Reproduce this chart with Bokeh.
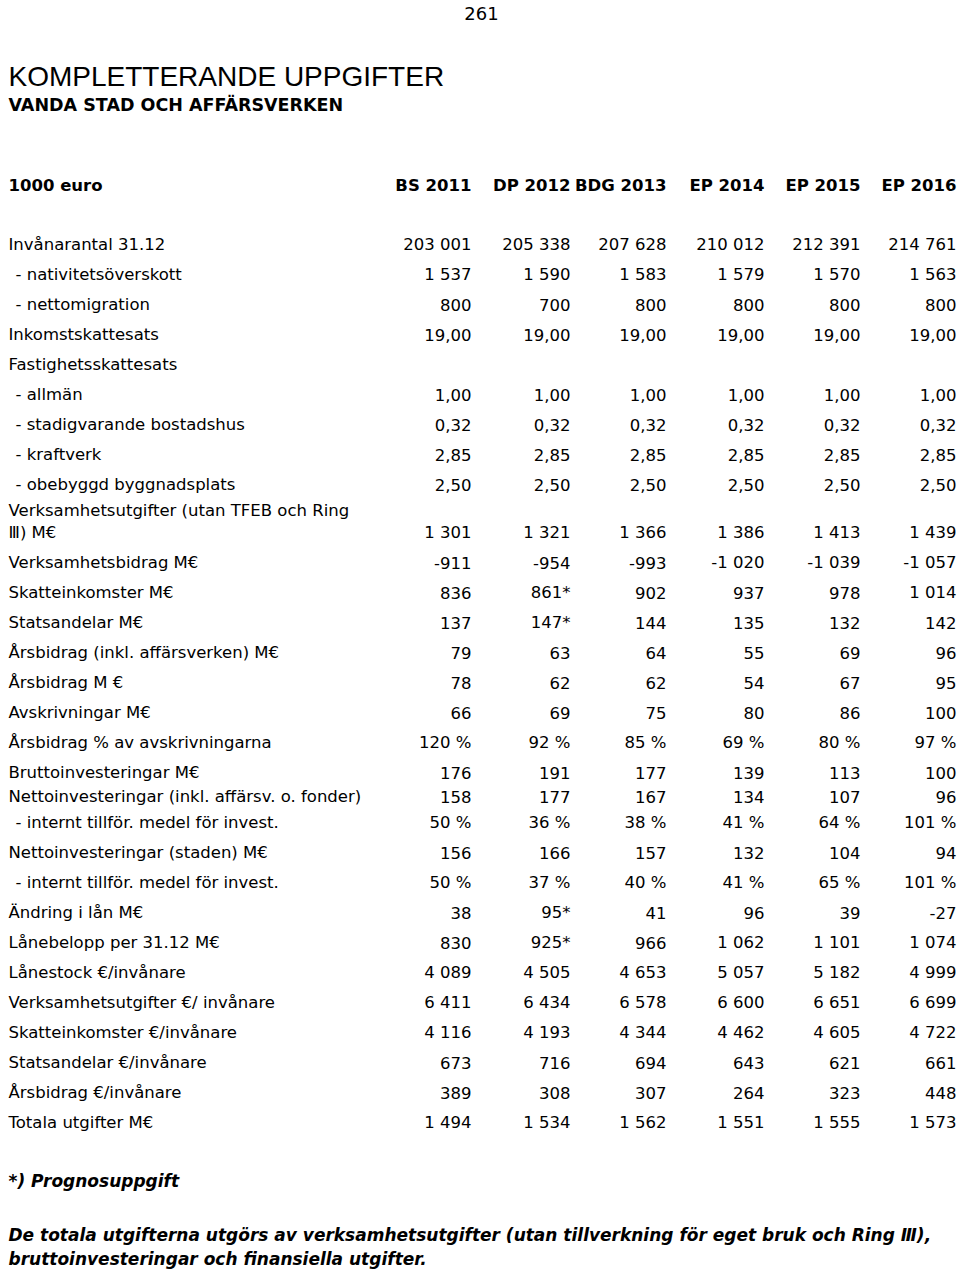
from bokeh.plotting import figure
from bokeh.models import Range1d, ColumnDataSource
from bokeh.core.properties import value
from bokeh.embed import file_html
from bokeh.resources import INLINE

# ---------------- data ----------------
page_number = "261"
title = "KOMPLETTERANDE UPPGIFTER"
subtitle = "VANDA STAD OCH AFFÄRSVERKEN"
unit_label = "1000 euro"
years = ["BS 2011", "DP 2012", "BDG 2013", "EP 2014", "EP 2015", "EP 2016"]

labels = [
    "Invånarantal 31.12",
    "- nativitetsöverskott",
    "- nettomigration",
    "Inkomstskattesats",
    "Fastighetsskattesats",
    "- allmän",
    "- stadigvarande bostadshus",
    "- kraftverk",
    "- obebyggd byggnadsplats",
    "Verksamhetsutgifter (utan TFEB och Ring\nⅢ) M€",
    "Verksamhetsbidrag M€",
    "Skatteinkomster M€",
    "Statsandelar M€",
    "Årsbidrag (inkl. affärsverken) M€",
    "Årsbidrag M €",
    "Avskrivningar M€",
    "Årsbidrag % av avskrivningarna",
    "Bruttoinvesteringar M€",
    "Nettoinvesteringar (inkl. affärsv. o. fonder)",
    "- internt tillför. medel för invest.",
    "Nettoinvesteringar (staden) M€",
    "- internt tillför. medel för invest.",
    "Ändring i lån M€",
    "Lånebelopp per 31.12 M€",
    "Lånestock €/invånare",
    "Verksamhetsutgifter €/ invånare",
    "Skatteinkomster €/invånare",
    "Statsandelar €/invånare",
    "Årsbidrag €/invånare",
    "Totala utgifter M€",
]

bs2011 = ["203 001", "1 537", "800", "19,00", "", "1,00", "0,32", "2,85", "2,50",
          "1 301", "-911", "836", "137", "79", "78", "66", "120 %", "176", "158", "50 %",
          "156", "50 %", "38", "830", "4 089", "6 411", "4 116", "673", "389", "1 494"]
dp2012 = ["205 338", "1 590", "700", "19,00", "", "1,00", "0,32", "2,85", "2,50",
          "1 321", "-954", "861*", "147*", "63", "62", "69", "92 %", "191", "177", "36 %",
          "166", "37 %", "95*", "925*", "4 505", "6 434", "4 193", "716", "308", "1 534"]
bdg2013 = ["207 628", "1 583", "800", "19,00", "", "1,00", "0,32", "2,85", "2,50",
           "1 366", "-993", "902", "144", "64", "62", "75", "85 %", "177", "167", "38 %",
           "157", "40 %", "41", "966", "4 653", "6 578", "4 344", "694", "307", "1 562"]
ep2014 = ["210 012", "1 579", "800", "19,00", "", "1,00", "0,32", "2,85", "2,50",
          "1 386", "-1 020", "937", "135", "55", "54", "80", "69 %", "139", "134", "41 %",
          "132", "41 %", "96", "1 062", "5 057", "6 600", "4 462", "643", "264", "1 551"]
ep2015 = ["212 391", "1 570", "800", "19,00", "", "1,00", "0,32", "2,85", "2,50",
          "1 413", "-1 039", "978", "132", "69", "67", "86", "80 %", "113", "107", "64 %",
          "104", "65 %", "39", "1 101", "5 182", "6 651", "4 605", "621", "323", "1 555"]
ep2016 = ["214 761", "1 563", "800", "19,00", "", "1,00", "0,32", "2,85", "2,50",
          "1 439", "-1 057", "1 014", "142", "96", "95", "100", "97 %", "100", "96", "101 %",
          "94", "101 %", "-27", "1 074", "4 999", "6 699", "4 722", "661", "448", "1 573"]

footnote = "*) Prognosuppgift"
note_lines = [
    "De totala utgifterna utgörs av verksamhetsutgifter (utan tillverkning för eget bruk och Ring Ⅲ),",
    "bruttoinvesteringar och finansiella utgifter.",
]

# ---------------- layout (style only) ----------------
W, H = 960, 1274
col_right = [471, 570, 666, 764, 860, 956]
first_row_y = 244
row_gap = 30
FONT = value("DejaVu Sans")
BODY = "16.5px"

# vertical position of each row (gap before each row)
gaps = []
for i, lab in enumerate(labels):
    if i == 0:
        gaps.append(0)
    elif "\n" in lab:
        gaps.append(48)
    elif lab.startswith("Nettoinvesteringar (inkl"):
        gaps.append(24)
    elif labels[i - 1].startswith("Nettoinvesteringar (inkl"):
        gaps.append(26)
    else:
        gaps.append(row_gap)
row_y = []
acc = first_row_y
for g in gaps:
    acc += g
    row_y.append(acc)

p = figure(width=W, height=H, x_range=Range1d(0, W), y_range=Range1d(H, 0),
           output_backend="svg", toolbar_location=None, min_border=0,
           x_axis_location=None, y_axis_location=None)
p.grid.visible = False
p.outline_line_color = None
p.background_fill_color = "white"
p.border_fill_color = "white"

def txt(x, y, t, size=BODY, style="normal", align="left", font=FONT):
    src = ColumnDataSource(dict(x=x, y=y, t=t))
    p.text(x="x", y="y", text="t", source=src, text_font=font, text_font_size=size,
           text_font_style=style, text_align=align, text_baseline="middle",
           text_color="black")

# page number, title
txt([481], [13], [page_number], size="18px", align="center")
txt([8], [76], [title], size="28px", font=value("Liberation Sans"))
txt([8], [104], [subtitle], size="17.5px", style="bold")

# header row
txt([8], [185], [unit_label], size="16.5px", style="bold")
txt(col_right, [185] * len(years), years, size="16.5px", style="bold", align="right")

# row labels
lx, ly, lt = [], [], []
for lab, y in zip(labels, row_y):
    if "\n" in lab:
        a, b = lab.split("\n")
        lx += [8, 8]; ly += [y - 22, y]; lt += [a, b]
    else:
        lx.append(15 if lab.startswith("-") else 8)
        ly.append(y)
        lt.append(lab)
txt(lx, ly, lt)

# values
for xr, col in zip(col_right, [bs2011, dp2012, bdg2013, ep2014, ep2015, ep2016]):
    txt([xr] * len(col), row_y, col, align="right")

# footnotes
txt([8], [1180], [footnote], size="17px", style="bold italic")
txt([8, 8], [1234, 1258], note_lines, size="17px", style="bold italic")

open("out.html", "w").write(file_html(p, INLINE))
